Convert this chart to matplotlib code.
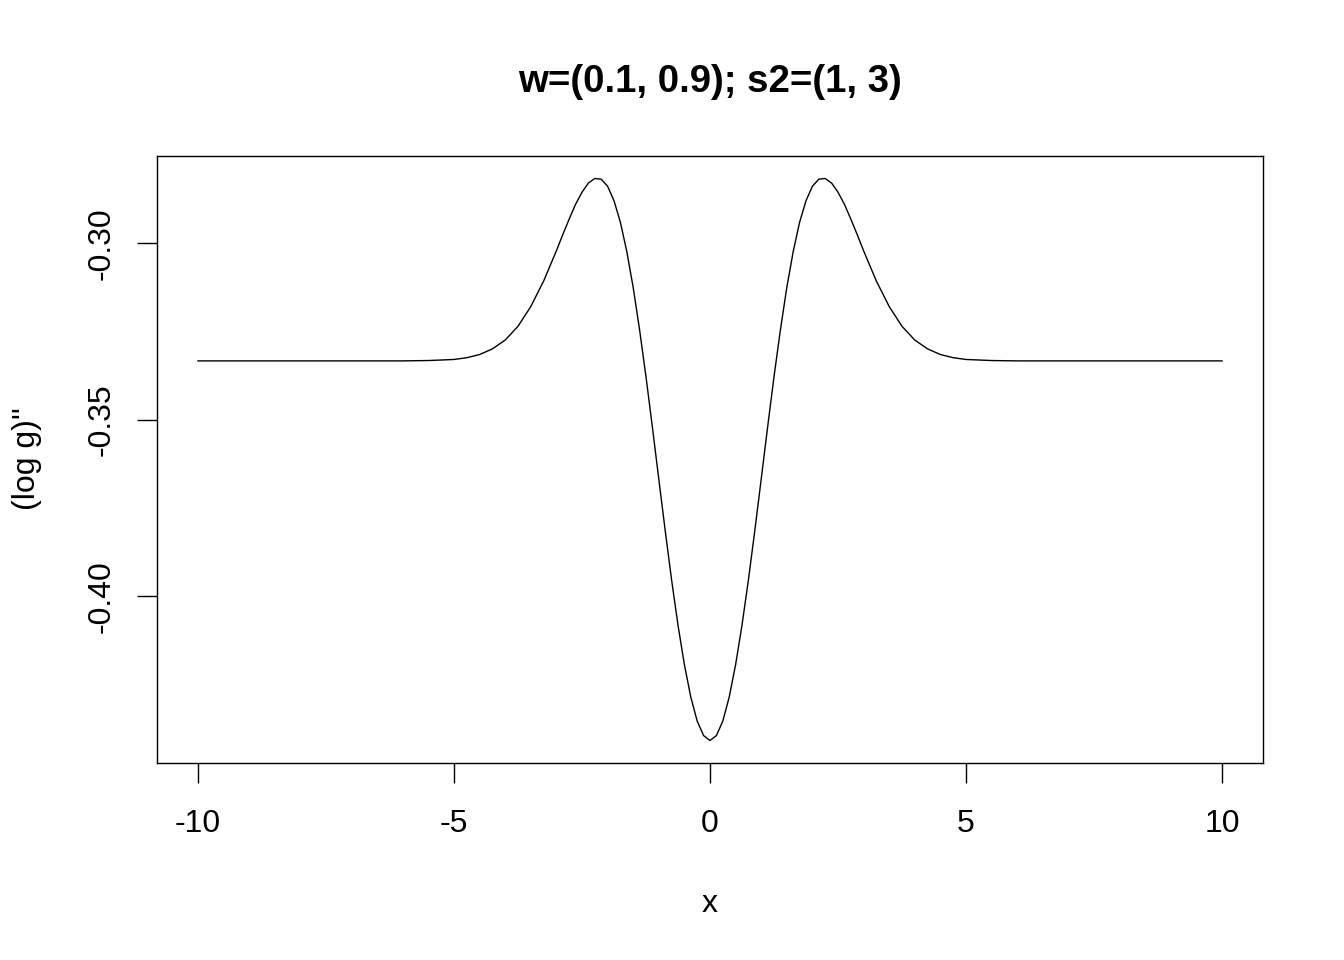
import matplotlib
matplotlib.use("Agg")
import matplotlib.pyplot as plt

# values
x_vals = [-10, -9, -8, -7, -6, -5.5, -5, -4.75, -4.5, -4.25, -4, -3.75, -3.5, -3.25,
          -3, -2.875, -2.75, -2.625, -2.5, -2.375, -2.25, -2.125, -2, -1.875, -1.75,
          -1.625, -1.5, -1.375, -1.25, -1.125, -1, -0.875, -0.75, -0.625, -0.5,
          -0.375, -0.25, -0.125, 0, 0.125, 0.25, 0.375, 0.5, 0.625, 0.75, 0.875, 1,
          1.125, 1.25, 1.375, 1.5, 1.625, 1.75, 1.875, 2, 2.125, 2.25, 2.375, 2.5,
          2.625, 2.75, 2.875, 3, 3.25, 3.5, 3.75, 4, 4.25, 4.5, 4.75, 5, 5.5, 6, 7,
          8, 9, 10]
y_vals = [-0.3333, -0.3333, -0.3333, -0.3333, -0.3333, -0.3332, -0.3329, -0.3324,
          -0.3315, -0.3299, -0.3274, -0.3235, -0.3179, -0.3107, -0.3021, -0.2975,
          -0.2931, -0.2889, -0.2855, -0.2829, -0.2816, -0.2818, -0.2838, -0.2879,
          -0.2940, -0.3023, -0.3125, -0.3245, -0.3378, -0.3521, -0.3668, -0.3814,
          -0.3954, -0.4082, -0.4194, -0.4286, -0.4354, -0.4395, -0.4409, -0.4395,
          -0.4354, -0.4286, -0.4194, -0.4082, -0.3954, -0.3814, -0.3668, -0.3521,
          -0.3378, -0.3245, -0.3125, -0.3023, -0.2940, -0.2879, -0.2838, -0.2818,
          -0.2816, -0.2829, -0.2855, -0.2889, -0.2931, -0.2975, -0.3021, -0.3107,
          -0.3179, -0.3235, -0.3274, -0.3299, -0.3315, -0.3324, -0.3329, -0.3332,
          -0.3333, -0.3333, -0.3333, -0.3333, -0.3333]
x_ticks = [-10, -5, 0, 5, 10]
x_tick_labels = ["-10", "-5", "0", "5", "10"]
y_ticks = [-0.40, -0.35, -0.30]
y_tick_labels = ["-0.40", "-0.35", "-0.30"]
title = "w=(0.1, 0.9); s2=(1, 3)"
x_label = "x"
y_label = "(log g)''"

plt.rcParams['font.family'] = ['Liberation Sans', 'DejaVu Sans']

W, H = 1344, 960
fig = plt.figure(figsize=(W / 100, H / 100), dpi=100)
ax = fig.add_axes([157 / W, 1 - 763 / H, (1263 - 157) / W, (763 - 156) / H])

ax.plot(x_vals, y_vals, color='black', lw=1.0)

xmin, xmax = min(x_vals), max(x_vals)
ymin, ymax = min(y_vals), max(y_vals)
dx = (xmax - xmin) * 0.04
dy = (ymax - ymin) * 0.04
ax.set_xlim(xmin - dx, xmax + dx)
ax.set_ylim(ymin - dy, ymax + dy)

ax.set_xticks(x_ticks)
ax.set_xticklabels(x_tick_labels)
ax.set_yticks(y_ticks)
ax.set_yticklabels(y_tick_labels, rotation=90, va='center')
ax.tick_params(axis='both', length=14.4, width=1.0, labelsize=23, direction='out')
ax.tick_params(axis='x', pad=19)
ax.tick_params(axis='y', pad=15)
for s in ax.spines.values():
    s.set_linewidth(1.0)

fig.text(710 / W, 1 - 92 / H, title, ha='center', va='baseline', fontsize=27.6, fontweight='bold')
fig.text(710 / W, 1 - 912 / H, x_label, ha='center', va='baseline', fontsize=23)
fig.text(27 / W, 1 - 459 / H, y_label, ha='center', va='center', rotation=90, fontsize=23)

fig.savefig("out.png", dpi=100)
